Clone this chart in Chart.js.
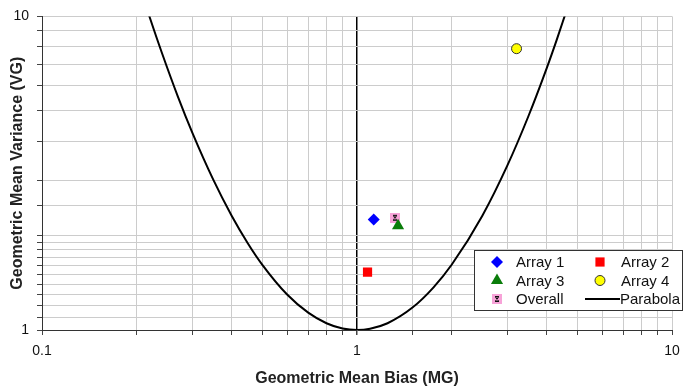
<!DOCTYPE html>
<html>
<head>
<meta charset="utf-8">
<script src="https://cdn.jsdelivr.net/npm/chart.js@4.4.1/dist/chart.umd.min.js"></script>
<style>
  html, body { margin: 0; padding: 0; background: #fff; }
  #wrap { width: 695px; height: 391px; }
</style>
</head>
<body>
<div id="wrap"><canvas id="mgvgChart" width="695" height="391"></canvas></div>
<script>
// MG / VG pairs per array
var array1 = [{ x: 1.13, y: 2.25 }];
var array2 = [{ x: 1.08, y: 1.53 }];
var array3 = [{ x: 1.35, y: 2.15 }];
var array4 = [{ x: 3.21, y: 7.89 }];
var overall = [{ x: 1.32, y: 2.28 }];

// parabola VG = exp((ln MG)^2)
var parabolaMG = [0.21, 0.22, 0.24, 0.27, 0.3, 0.35, 0.4, 0.45, 0.5, 0.6, 0.7, 0.8, 0.9, 1,
                  1.1, 1.25, 1.5, 1.75, 2, 2.5, 3, 3.5, 4, 4.3, 4.6];
var parabolaVG = [11.42, 9.90, 7.67, 5.55, 4.26, 3.01, 2.315, 1.892, 1.617, 1.298, 1.136, 1.051, 1.011, 1,
                  1.009, 1.051, 1.179, 1.368, 1.617, 2.315, 3.343, 4.804, 6.83, 8.39, 10.27];

var xTickLabels = [0.1, 1, 10];
var yTickLabels = [1, 10];

var parabola = parabolaMG.map(function (mg, i) { return { x: mg, y: parabolaVG[i] }; });

// pink square with a small black hourglass, used for "Overall"
function overallMarker() {
  var c = document.createElement('canvas');
  c.width = 10; c.height = 10;
  var g = c.getContext('2d');
  g.fillStyle = '#f7a3d8';
  g.fillRect(0, 0, 10, 10);
  g.strokeStyle = '#111';
  g.lineWidth = 1.2;
  g.beginPath();
  g.moveTo(3, 2.5); g.lineTo(7, 2.5);
  g.moveTo(3, 7.5); g.lineTo(7, 7.5);
  g.moveTo(3.5, 3); g.lineTo(6.5, 7);
  g.moveTo(6.5, 3); g.lineTo(3.5, 7);
  g.stroke();
  return c;
}

function hasLabel(list, v) {
  return list.some(function (t) { return Math.abs(t - v) < 1e-9; });
}

// boxed two-column legend inside the plot
var boxLegend = {
  id: 'boxLegend',
  afterDraw: function (chart) {
    var ctx = chart.ctx;
    var area = chart.chartArea;
    var right = area.right + 10, bottom = area.bottom - 20;
    var w = 208, h = 60;
    var left = right - w, top = bottom - h;
    ctx.save();
    ctx.fillStyle = '#fff';
    ctx.fillRect(left, top, w, h);
    ctx.strokeStyle = '#333';
    ctx.lineWidth = 1;
    ctx.strokeRect(left + 0.5, top + 0.5, w, h);
    ctx.font = '15px "Liberation Sans", Arial, sans-serif';
    ctx.textBaseline = 'middle';
    chart.data.datasets.forEach(function (ds, i) {
      var col = i % 2, row = Math.floor(i / 2);
      var cy = top + 12 + row * 18.5;
      var mx = left + (col ? 126 : 23);
      var tx = left + (col ? 147 : 42);
      if (ds.showLine) {
        ctx.strokeStyle = ds.borderColor;
        ctx.lineWidth = 2;
        ctx.beginPath();
        ctx.moveTo(left + 111, cy);
        ctx.lineTo(left + 146, cy);
        ctx.stroke();
        tx = left + 146;
      } else {
        ctx.fillStyle = ds.backgroundColor;
        ctx.strokeStyle = ds.borderColor;
        ctx.lineWidth = ds.borderWidth;
        Chart.helpers.drawPoint(ctx, {
          pointStyle: ds.pointStyle,
          radius: ds.pointRadius,
          rotation: 0,
          borderWidth: ds.borderWidth
        }, mx, cy);
      }
      ctx.fillStyle = '#111';
      ctx.fillText(ds.label, tx, cy + 1);
    });
    ctx.restore();
  }
};

var ctx = document.getElementById('mgvgChart').getContext('2d');
var mgvgChart = new Chart(ctx, {
  type: 'scatter',
  data: {
    datasets: [
      {
        label: 'Array 1',
        data: array1,
        pointStyle: 'rectRot',
        pointRadius: 6,
        backgroundColor: '#0000ff',
        borderColor: '#0000ff',
        borderWidth: 0
      },
      {
        label: 'Array 2',
        data: array2,
        pointStyle: 'rect',
        pointRadius: 6.5,
        backgroundColor: '#ff0000',
        borderColor: '#ff0000',
        borderWidth: 0
      },
      {
        label: 'Array 3',
        data: array3,
        pointStyle: 'triangle',
        pointRadius: 7,
        backgroundColor: '#0a7d0a',
        borderColor: '#0a7d0a',
        borderWidth: 0
      },
      {
        label: 'Array 4',
        data: array4,
        pointStyle: 'circle',
        pointRadius: 5,
        backgroundColor: '#ffff00',
        borderColor: '#333333',
        borderWidth: 1
      },
      {
        label: 'Overall',
        data: overall,
        pointStyle: overallMarker(),
        pointRadius: 5,
        backgroundColor: '#f7a3d8',
        borderColor: '#f7a3d8',
        borderWidth: 0
      },
      {
        label: 'Parabola',
        data: parabola,
        showLine: true,
        pointRadius: 0,
        borderColor: '#000000',
        borderWidth: 2,
        cubicInterpolationMode: 'monotone'
      }
    ]
  },
  options: {
    responsive: false,
    animation: false,
    layout: { padding: { top: 15, right: 23, left: 0, bottom: 0 } },
    plugins: {
      legend: { display: false },
      tooltip: { enabled: false }
    },
    scales: {
      x: {
        type: 'logarithmic',
        min: 0.1,
        max: 10,
        afterFit: function (scale) { scale.height = 61; },
        border: { color: '#333', width: 1 },
        grid: {
          color: function (c) { return c.tick && Math.abs(c.tick.value - 1) < 1e-9 ? '#000' : '#cccccc'; },
          lineWidth: function (c) { return c.tick && Math.abs(c.tick.value - 1) < 1e-9 ? 1.5 : 1; },
          tickColor: '#444',
          tickLength: 5
        },
        ticks: {
          autoSkip: false,
          maxRotation: 0,
          padding: 8,
          color: '#111',
          font: { family: '"Liberation Sans", Arial, sans-serif', size: 14 },
          callback: function (v) { return hasLabel(xTickLabels, v) ? String(v) : ''; }
        },
        title: {
          display: true,
          text: 'Geometric Mean Bias (MG)',
          color: '#222',
          font: { family: '"Liberation Sans Narrow", "Liberation Sans", Arial, sans-serif', size: 16, weight: 'bold' },
          padding: { top: 0, bottom: 3 }
        }
      },
      y: {
        type: 'logarithmic',
        min: 1,
        max: 10,
        afterFit: function (scale) { scale.width = 42; },
        border: { color: '#333', width: 1 },
        grid: {
          color: '#cccccc',
          tickColor: '#444',
          tickLength: 5
        },
        ticks: {
          autoSkip: false,
          padding: 8,
          color: '#111',
          font: { family: '"Liberation Sans", Arial, sans-serif', size: 14 },
          callback: function (v) { return hasLabel(yTickLabels, v) ? String(v) : ''; }
        },
        title: {
          display: true,
          text: 'Geometric Mean Variance (VG)',
          color: '#222',
          font: { family: '"Liberation Sans Narrow", "Liberation Sans", Arial, sans-serif', size: 16, weight: 'bold' },
          padding: { top: 8, bottom: 0 }
        }
      }
    }
  },
  plugins: [boxLegend]
});
</script>
</body>
</html>
